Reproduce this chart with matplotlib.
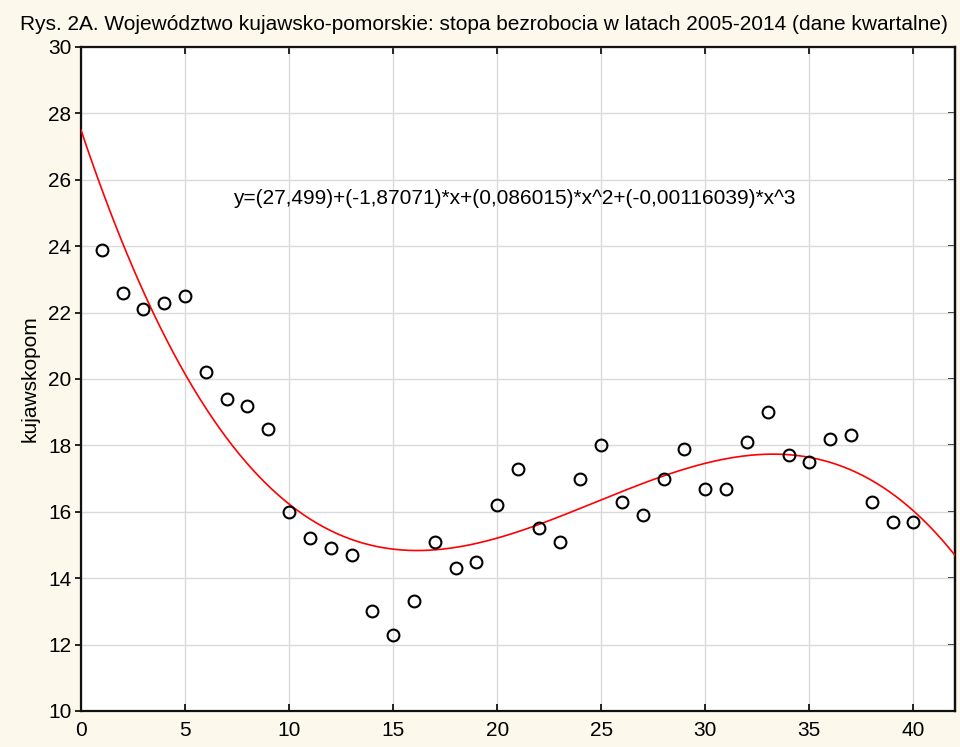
"""Rys. 2A - stopa bezrobocia, kujawsko-pomorskie, dane kwartalne 2005-2014."""

import numpy as np
import matplotlib
matplotlib.use("Agg")
import matplotlib.pyplot as plt

# kwartaly 1..40 i stopa bezrobocia
kwartal = list(range(1, 41))
stopa = [23.9, 22.6, 22.1, 22.3, 22.5, 20.2, 19.4, 19.2, 18.5, 16.0,
         15.2, 14.9, 14.7, 13.0, 12.3, 13.3, 15.1, 14.3, 14.5, 16.2,
         17.3, 15.5, 15.1, 17.0, 18.0, 16.3, 15.9, 17.0, 17.9, 16.7,
         16.7, 18.1, 19.0, 17.7, 17.5, 18.2, 18.3, 16.3, 15.7, 15.7]

# wspolczynniki wielomianu z wykresu
wsp = [27.499, -1.87071, 0.086015, -0.00116039]
rownanie = "y=(27,499)+(-1,87071)*x+(0,086015)*x^2+(-0,00116039)*x^3"

tytul = "Rys. 2A. Województwo kujawsko-pomorskie: stopa bezrobocia w latach 2005-2014 (dane kwartalne)"
x_ticks = [0, 5, 10, 15, 20, 25, 30, 35, 40]
y_ticks = [10, 12, 14, 16, 18, 20, 22, 24, 26, 28, 30]

plt.rcParams['font.family'] = ['Liberation Sans', 'DejaVu Sans']

bg = '#fdf8ec'
fig = plt.figure(figsize=(9.6, 7.47), dpi=100, facecolor=bg)
ax = fig.add_axes([81 / 960, 1 - 711 / 747, (955 - 81) / 960, (711 - 47) / 747])
ax.set_facecolor('white')

# krzywa dopasowania
xs = np.linspace(0, 42, 400)
ys = wsp[0] + wsp[1] * xs + wsp[2] * xs ** 2 + wsp[3] * xs ** 3
ax.plot(xs, ys, color='red', lw=1.2, zorder=3)

ax.plot(kwartal, stopa, 'o', mfc='none', mec='black', mew=1.5, ms=8.5,
        zorder=4, clip_on=False)

# rownanie w pikselach figury
fig.text(233 / 960, 1 - 198 / 747, rownanie, fontsize=15, va='center', ha='left')

ax.set_xlim(0, 42)
ax.set_ylim(10, 30)
ax.set_xticks(x_ticks)
ax.set_yticks(y_ticks)
ax.grid(True, color='#dadada', lw=1.0, zorder=0)
ax.set_axisbelow(True)

for s in ax.spines.values():
    s.set_linewidth(1.6)
    s.set_color('#111111')

ax.tick_params(axis='x', direction='in', top=True, length=5, width=1.2,
               labelsize=15, pad=7)
ax.tick_params(axis='y', direction='out', right=False, length=4, width=1.2,
               labelsize=15, pad=3)
# prawe znaczniki do srodka
ax2 = ax.secondary_yaxis('right')
ax2.set_yticks(y_ticks)
ax2.tick_params(direction='in', length=5, width=1.2, labelright=False)
ax2.spines['right'].set_linewidth(1.6)

ax.set_ylabel('kujawskopom', fontsize=15, labelpad=6)

fig.text(20 / 960, 1 - 24 / 747, tytul, fontsize=15, va='center', ha='left')

fig.savefig('out.png', dpi=100, facecolor=bg)
